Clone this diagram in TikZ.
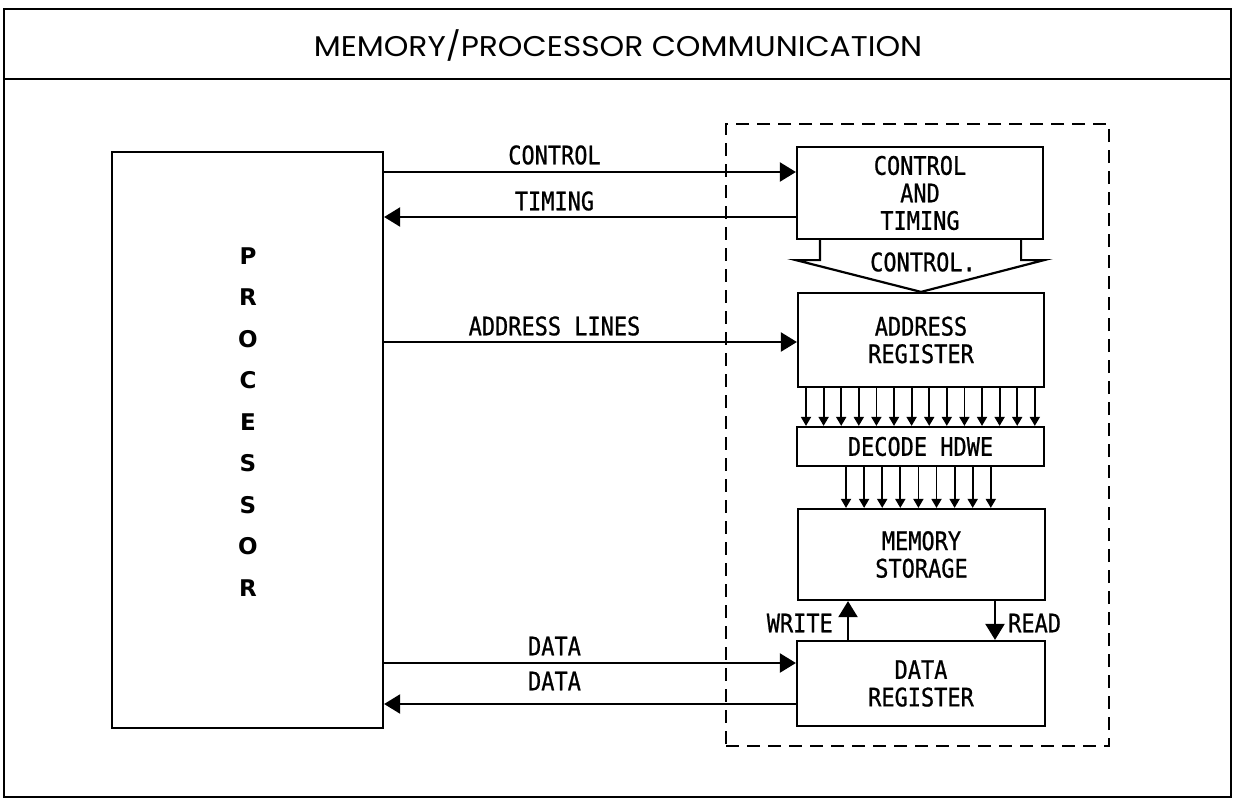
\documentclass[tikz,border=0pt]{standalone}
\usepackage{fontspec}
\usetikzlibrary{arrows.meta,calc}
\newfontfamily\labfont[FakeStretch=0.86,FakeBold=0.8]{DejaVu Sans Mono}
\newfontfamily\titlefont[FakeStretch=1.1]{Poppins}
\newfontfamily\procfont{DejaVu Sans}
\begin{document}
\begin{tikzpicture}[x=1pt,y=-1pt,
  box/.style={draw,line width=2.2pt,rectangle,inner sep=0pt,align=center,
    font=\labfont\fontsize{25.5}{27.5}\selectfont},
  lbl/.style={font=\labfont\fontsize{25.5}{27.5}\selectfont,inner sep=0pt},
  conn/.style={line width=2.2pt,-{Triangle[length=16pt,width=19pt]}},
  bus/.style={line width=1.8pt,-{Triangle[length=9pt,width=10pt]}},
  frame/.style={line width=2.8pt},
  unitbox/.style={draw,line width=2.2pt,dash pattern=on 13pt off 8pt,inner sep=0pt}
]
\useasboundingbox (0,0) rectangle (1233,801);
% outer frame and title
\draw[frame] (4,9) rectangle (1231,797);
\draw[frame] (4,79) -- (1231,79);
\node[font=\titlefont\fontsize{28.5}{32}\selectfont,inner sep=0pt] (title) at (618,45) {MEMORY/PROCESSOR COMMUNICATION};

% memory unit (dashed)
\node[unitbox,minimum width=383pt,minimum height=622pt] (unit) at (917.5,435) {};

% processor
\node[draw,line width=2.2pt,inner sep=0pt,minimum width=271pt,minimum height=576pt] (proc) at (247.5,440) {};
\node[font=\procfont\bfseries\fontsize{23}{41.5}\selectfont,align=center,inner sep=0pt] (proctext) at (248,422)
  {P\\R\\O\\C\\E\\S\\S\\O\\R};

% memory boxes
\node[box,minimum width=246pt,minimum height=92pt] (ct) at (920,193) {CONTROL\\AND\\TIMING};
\node[box,minimum width=246pt,minimum height=94pt] (addr) at (921,340) {ADDRESS\\REGISTER};
\node[box,minimum width=247pt,minimum height=39pt] (dec) at (920.5,446.5) {DECODE HDWE};
\node[box,minimum width=247pt,minimum height=91pt] (mem) at (921.5,554.5) {MEMORY\\STORAGE};
\node[box,minimum width=248pt,minimum height=85pt] (data) at (921,683.5) {DATA\\REGISTER};

% processor <-> memory connectors
\draw[conn] (proc.east |- 0,172) -- (ct.west |- 0,172);
\draw[conn] (ct.west |- 0,217) -- (proc.east |- 0,217);
\draw[conn] (proc.east |- 0,342) -- (addr.west |- 0,342);
\draw[conn] (proc.east |- 0,663) -- (data.west |- 0,663);
\draw[conn] (data.west |- 0,704) -- (proc.east |- 0,704);

\node[lbl] (lcontrol) at (554.5,155) {CONTROL};
\node[lbl] (ltiming) at (554.5,201) {TIMING};
\node[lbl] (laddr) at (554.5,326) {ADDRESS LINES};
\node[lbl] (ldata1) at (554.5,646) {DATA};
\node[lbl] (ldata2) at (554.5,681) {DATA};

% fat control arrow
\draw[line width=2.2pt,line join=miter]
  ($(ct.south west)+(24,0)$) -- ++(0,20) -- ++(-24,0) -- (addr.north)
  -- ($(ct.south east)+(0,20)$) -- ++(-23,0) -- ($(ct.south east)+(-23,0)$);
\node[lbl] (lctl) at (923,262) {CONTROL.};

% address bus
\foreach \i in {0,...,13}{
  \draw[bus] (addr.south -| {806+\i*17.6},0) -- (dec.north -| {806+\i*17.6},0);
}
% decode bus
\foreach \i in {0,...,8}{
  \draw[bus] (dec.south -| {846+\i*18.1},0) -- (mem.north -| {846+\i*18.1},0);
}

% write / read
\draw[conn] (data.north -| 848,0) -- (mem.south -| 848,0);
\draw[conn] (mem.south -| 995,0) -- (data.north -| 995,0);
\node[lbl,anchor=east] (lwrite) at (833,623) {WRITE};
\node[lbl,anchor=west] (lread) at (1008,623) {READ};
\end{tikzpicture}
\end{document}
